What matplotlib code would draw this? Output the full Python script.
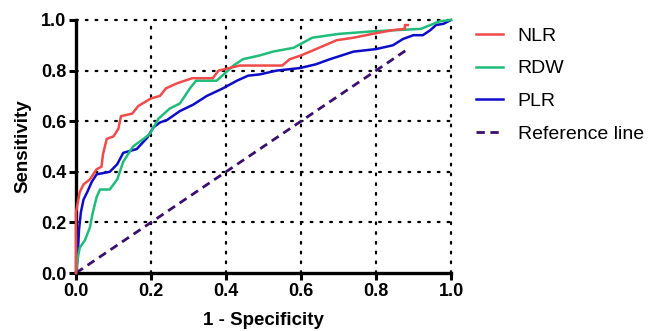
import matplotlib
matplotlib.use("Agg")
import matplotlib.pyplot as plt

plt.rcParams['font.family'] = ['Liberation Sans', 'DejaVu Sans']

nlr_x = [0.0, 0.0, 0.005, 0.01, 0.02, 0.037, 0.055, 0.068, 0.072, 0.082, 0.1, 0.113, 0.12, 0.15,
         0.166, 0.2, 0.224, 0.24, 0.27, 0.31, 0.365, 0.38, 0.437, 0.55, 0.57, 0.6, 0.64, 0.695,
         0.74, 0.79, 0.845, 0.877, 0.877, 0.885]
nlr_y = [0.0, 0.24, 0.28, 0.32, 0.35, 0.37, 0.41, 0.42, 0.47, 0.53, 0.54, 0.57, 0.62, 0.63,
         0.66, 0.69, 0.70, 0.73, 0.75, 0.77, 0.77, 0.80, 0.82, 0.82, 0.845, 0.86, 0.885, 0.92,
         0.93, 0.945, 0.96, 0.965, 0.98, 0.98]

rdw_x = [0.0, 0.005, 0.01, 0.024, 0.037, 0.045, 0.055, 0.064, 0.09, 0.11, 0.126, 0.152, 0.18,
         0.197, 0.22, 0.25, 0.277, 0.304, 0.32, 0.375, 0.42, 0.445, 0.49, 0.525, 0.58, 0.63,
         0.70, 0.79, 0.855, 0.92, 0.945, 0.97, 1.0]
rdw_y = [0.0, 0.06, 0.10, 0.13, 0.18, 0.24, 0.30, 0.33, 0.33, 0.37, 0.44, 0.50, 0.53,
         0.55, 0.61, 0.65, 0.67, 0.73, 0.76, 0.76, 0.82, 0.845, 0.86, 0.875, 0.89, 0.93,
         0.945, 0.955, 0.96, 0.965, 0.98, 0.995, 1.0]

plr_x = [0.0, 0.005, 0.008, 0.013, 0.02, 0.03, 0.042, 0.055, 0.09, 0.11, 0.126, 0.162, 0.19,
         0.206, 0.224, 0.243, 0.277, 0.312, 0.349, 0.392, 0.429, 0.459, 0.49, 0.535, 0.597,
         0.64, 0.677, 0.74, 0.80, 0.845, 0.872, 0.90, 0.925, 0.945, 0.96, 0.98, 1.0]
plr_y = [0.0, 0.08, 0.17, 0.24, 0.29, 0.32, 0.36, 0.39, 0.40, 0.43, 0.475, 0.49, 0.535,
         0.575, 0.595, 0.605, 0.64, 0.665, 0.70, 0.73, 0.76, 0.78, 0.785, 0.80, 0.81,
         0.825, 0.845, 0.875, 0.885, 0.90, 0.925, 0.94, 0.94, 0.96, 0.98, 0.985, 1.0]

ref_x = [0.0, 0.89]
ref_y = [0.0, 0.89]

ticks = [0.0, 0.2, 0.4, 0.6, 0.8, 1.0]
tick_labels = ['0.0', '0.2', '0.4', '0.6', '0.8', '1.0']

fig = plt.figure(figsize=(6.52, 3.31), dpi=100)
ax = fig.add_axes([76/652, 1-273/331, 375/652, 253/331])

for g in [0.2, 0.4, 0.6, 0.8, 1.0]:
    ax.axhline(g, color='black', lw=1.6, linestyle=(0, (0.8, 3.6)), zorder=1, dash_capstyle='round', clip_on=False)
    ax.axvline(g, color='black', lw=1.6, linestyle=(0, (0.8, 3.6)), zorder=1, dash_capstyle='round', clip_on=False)

ax.plot(ref_x, ref_y, color='#3B0F6E', lw=2.0, linestyle=(0, (3, 2)), label='Reference line', zorder=2)
ax.plot(plr_x, plr_y, color='#0D0DC8', lw=1.8, label='PLR', zorder=3, clip_on=False)
ax.plot(rdw_x, rdw_y, color='#1FBC7A', lw=1.8, label='RDW', zorder=3, clip_on=False)
ax.plot(nlr_x, nlr_y, color='#F04A4A', lw=1.8, label='NLR', zorder=4, clip_on=False)

ax.set_xlim(0, 1)
ax.set_ylim(0, 1)
ax.set_xticks(ticks)
ax.set_yticks(ticks)
ax.set_xticklabels(tick_labels, fontsize=13, fontweight='bold')
ax.set_yticklabels(tick_labels, fontsize=13, fontweight='bold')
ax.tick_params(width=2.2, length=5, direction='out', pad=2)
for s in ['top', 'right']:
    ax.spines[s].set_visible(False)
for s in ['left', 'bottom']:
    ax.spines[s].set_linewidth(2.4)
ax.set_xlabel('1 - Specificity', fontsize=13.5, fontweight='bold', labelpad=9)
ax.set_ylabel('Sensitivity', fontsize=13.5, fontweight='bold', labelpad=7)

handles, labels = ax.get_legend_handles_labels()
order = [3, 2, 1, 0]
leg = fig.legend([handles[i] for i in order], [labels[i] for i in order],
                 loc='upper left', bbox_to_anchor=(476/652, 1-27/331), frameon=False,
                 fontsize=14, handlelength=1.4, handletextpad=0.75, labelspacing=0.78,
                 borderaxespad=0, borderpad=0)

fig.savefig('out.png', dpi=100)
